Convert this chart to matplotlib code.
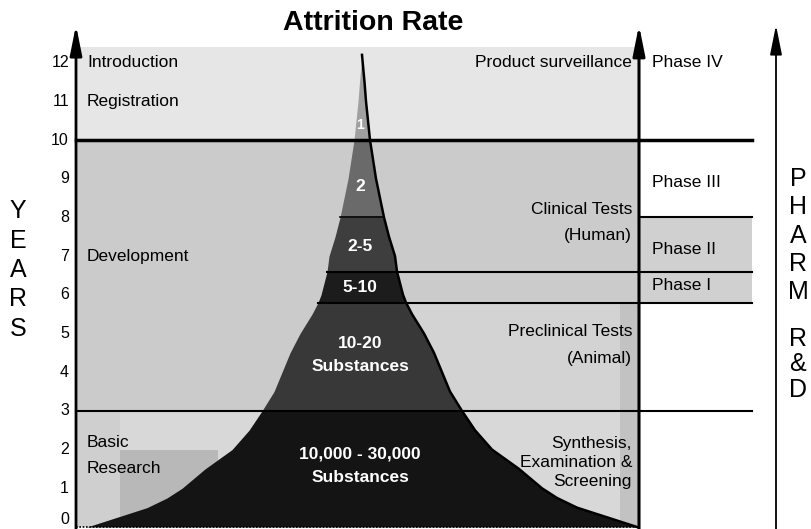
# Drug development timeline: attrition funnel vs years
import matplotlib.pyplot as plt

# === 0. data ===
year_ticks = list(range(13))

# funnel half width (pixels), by year
curve_years = [0, 0.25, 0.5, 0.75, 1, 1.5, 2, 2.5, 3, 3.5, 4, 4.5, 5, 5.5,
               5.8, 6, 6.6, 7, 7.5, 8, 8.5, 9, 9.5, 10, 10.5, 11, 11.5, 12.2]
curve_halfwidth = [275, 245, 215, 195, 180, 157, 130, 113, 100, 88, 80, 72,
                   62, 50, 44, 41, 35, 33, 27, 22, 18, 14, 11, 8, 6, 4, 2.5, 0]

# funnel bands (compounds left at each stage)
band_edges = [0, 3, 5.8, 6.6, 8, 10, 12.2]
band_labels = ["10,000 - 30,000\nSubstances", "10-20\nSubstances", "5-10",
               "2-5", "2", "1"]
band_label_years = [1.59, 4.45, 6.18, 7.24, 8.79, 10.39]

# left stages
left_stages = ["Introduction", "Registration", "Development", "Basic\nResearch"]
left_stage_years = [12.0, 11.0, 7.0, 1.85]

# right stages
right_stages = ["Product surveillance", "Clinical Tests\n(Human)",
                "Preclinical Tests\n(Animal)", "Synthesis,\nExamination &\nScreening"]
right_stage_years = [12.0, 7.87, 4.7, 1.67]

# clinical phases
phases = ["Phase IV", "Phase III", "Phase II", "Phase I"]
phase_years = [12.0, 8.91, 7.18, 6.25]

# === 1. layout (x in pixels, y in years) ===
X_AXIS, X_MID, X_RIGHT, X_END = 76, 639, 776, 752
X_CENTER = 362
Y_TIP = 12.97

plt.rcParams['font.family'] = ['Liberation Sans', 'DejaVu Sans']
fig = plt.figure(figsize=(8.11, 5.29), dpi=100)
ax = fig.add_axes([0, 0, 1, 1])
ax.set_xlim(0, 811)
ax.set_ylim(-0.052, 13.618)
ax.axis('off')

# === 2. background regions ===
ax.fill_between([X_AXIS, X_MID], 10, 12.4, color="#e6e6e6", lw=0)
ax.fill_between([X_AXIS, X_MID], 3, 10, color="#cbcbcb", lw=0)
ax.fill_between([X_MID, X_END], 5.8, 8, color="#d0d0d0", lw=0)
ax.fill_between([X_AXIS, 620], 0, 3, color="#d8d8d8", lw=0)
ax.fill_between([400, 620], 3, 5.8, color="#d3d3d3", lw=0)
ax.fill_between([620, X_MID], 0, 5.8, color="#c2c2c2", lw=0)
ax.fill_between([120, 218], 0, 2, color="#b8b8b8", lw=0)
ax.fill_between([X_AXIS, 120], 0, 3, color="#cfcfcf", lw=0)

# === 3. funnel ===
band_colors = ["#141414", "#383838", "#1c1c1c", "#3e3e3e", "#6a6a6a", "#a0a0a0"]
left_edge = [X_CENTER - w for w in curve_halfwidth]
right_edge = [X_CENTER + w for w in curve_halfwidth]
for i, col in enumerate(band_colors):
    lo, hi = band_edges[i], band_edges[i + 1]
    mask = [lo <= y <= hi for y in curve_years]
    ax.fill_betweenx(curve_years, left_edge, right_edge, where=mask,
                     color=col, lw=0)
ax.plot(right_edge, curve_years, color="black", lw=1.8)

for lab, y in zip(band_labels, band_label_years):
    fs = 10 if lab == "1" else 12.5
    ax.text(X_CENTER - 2, y, lab, color="white", fontsize=fs, fontweight="bold",
            ha="center", va="center", linespacing=1.7)

# === 4. lines ===
ax.plot([X_AXIS, X_END], [10, 10], color="black", lw=2.5)
ax.plot([X_AXIS, X_END], [3, 3], color="black", lw=1.5)
for y in [6.6, 5.8]:
    i = curve_years.index(y)
    ax.plot([left_edge[i], X_END], [y, y], color="black", lw=1.5)
i8 = curve_years.index(8)
ax.plot([left_edge[i8], right_edge[i8]], [8, 8], color="black", lw=1.2)
ax.plot([X_MID, X_END], [8, 8], color="black", lw=1.5)
ax.plot([X_AXIS, X_MID], [0, 0], color="black", lw=1.2, ls=(0, (1, 1)))

for x, lw in [(X_AXIS, 2), (X_MID, 2.2), (X_RIGHT, 1.3)]:
    ax.annotate("", xy=(x, Y_TIP), xytext=(x, -0.05),
                arrowprops=dict(arrowstyle="-|>,head_length=0.9,head_width=0.18",
                                lw=lw, color="black", mutation_scale=20,
                                shrinkA=0, shrinkB=0))

# === 5. text ===
for t in year_ticks:
    ax.text(69, max(t, 0.2), str(t), fontsize=11.5, ha="right", va="center")

for lab, y in zip(left_stages, left_stage_years):
    ax.text(87, y, lab, fontsize=12.5, ha="left", va="center", linespacing=1.9)

right_spacing = [1.2, 1.9, 1.95, 1.35]
for lab, y, ls in zip(right_stages, right_stage_years, right_spacing):
    ax.text(632, y, lab, fontsize=12.5, ha="right", va="center", linespacing=ls)

for lab, y in zip(phases, phase_years):
    ax.text(652, y, lab, fontsize=12.5, ha="left", va="center")

ax.text(373, 13.02, "Attrition Rate", fontsize=20.5, fontweight="bold",
        ha="center", va="center")

ax.text(18, 6.64, "\n".join("YEARS"), fontsize=18, ha="center", va="center",
        linespacing=1.28)
ax.text(798, 7.53, "\n".join("PHARM"), fontsize=18, ha="center", va="center",
        linespacing=1.22)
ax.text(798, 4.2, "\n".join("R&D"), fontsize=18, ha="center", va="center",
        linespacing=1.1)

plt.savefig("out.png", dpi=100)
